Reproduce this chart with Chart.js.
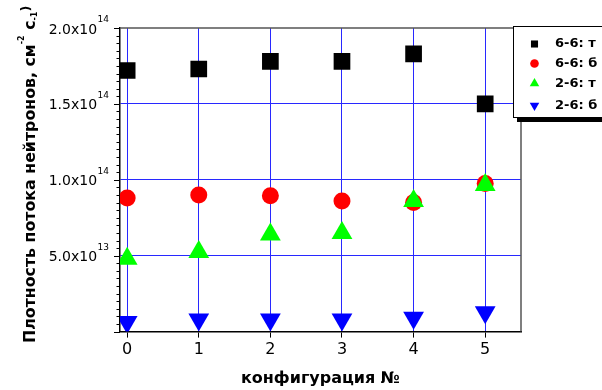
<!DOCTYPE html>
<html>
<head>
<meta charset="utf-8">
<script src="https://cdn.jsdelivr.net/npm/chart.js@4"></script>
<style>
html, body { margin: 0; padding: 0; background: #fff; }
#wrap { width: 602px; height: 390px; }
</style>
</head>
<body>
<div id="wrap"><canvas id="flux-chart" width="602" height="390"></canvas></div>
<script>
// конфигурации и плотности потока (см^-2 с^-1)
const configs = [0, 1, 2, 3, 4, 5];
const flux66t = [1.72e14, 1.73e14, 1.78e14, 1.78e14, 1.83e14, 1.50e14];
const flux66b = [8.8e13, 9.0e13, 8.95e13, 8.6e13, 8.5e13, 9.75e13];
const flux26t = [4.8e13, 5.25e13, 6.4e13, 6.5e13, 8.6e13, 9.65e13];
const flux26b = [6.3e12, 7.9e12, 7.9e12, 7.9e12, 9.2e12, 1.27e13];

const seriesNames = ['6-6: т', '6-6: б', '2-6: т', '2-6: б'];
const yTicks = [0, 5e13, 1e14, 1.5e14, 2e14];
const yTickMant = ['', '5.0x10', '1.0x10', '1.5x10', '2.0x10'];
const yTickExp = ['', '13', '14', '14', '14'];
const yMinorStep = 5e12;

const FONT = 'DejaVu Sans';
const blue = 'rgb(40,40,255)';

function pts(arr) {
    return configs.map((c, i) => ({ x: c, y: arr[i] }));
}

const styles = [
    { pointStyle: 'rect', radius: 11.8, rotation: 0, color: '#000000', legR: 5 },
    { pointStyle: 'circle', radius: 8.5, rotation: 0, color: '#ff0000', legR: 4.3 },
    { pointStyle: 'triangle', radius: 12, rotation: 0, color: '#00ff00', legR: 5.5 },
    { pointStyle: 'triangle', radius: 12, rotation: 180, color: '#0000ff', legR: 5.5 },
];

const decor = {
    id: 'decor',
    afterDraw(chart) {
        const ctx = chart.ctx;
        const a = chart.chartArea;
        const ys = chart.scales.y;
        ctx.save();

        // рамка сверху и справа
        ctx.strokeStyle = '#555';
        ctx.lineWidth = 1.5;
        ctx.beginPath();
        ctx.moveTo(a.left, a.top);
        ctx.lineTo(a.right, a.top);
        ctx.lineTo(a.right, a.bottom);
        ctx.stroke();

        // деления на оси Y
        ctx.strokeStyle = '#000';
        ctx.lineWidth = 1;
        for (let k = 0; k * yMinorStep <= 2e14; k++) {
            const y = Math.round(ys.getPixelForValue(k * yMinorStep)) + 0.5;
            const major = k % 10 === 0;
            ctx.beginPath();
            ctx.moveTo(a.left - (major ? 6 : 3.5), y);
            ctx.lineTo(a.left, y);
            ctx.stroke();
        }

        // подписи оси Y со степенями
        ctx.fillStyle = '#000';
        ctx.textBaseline = 'alphabetic';
        yTicks.forEach((v, i) => {
            if (!yTickMant[i]) return;
            const y = ys.getPixelForValue(v);
            ctx.font = '9px ' + FONT;
            const supW = ctx.measureText(yTickExp[i]).width;
            const supX = a.left - 11 - supW;
            ctx.fillText(yTickExp[i], supX, y - 6);
            ctx.font = '14px ' + FONT;
            const mW = ctx.measureText(yTickMant[i]).width;
            ctx.fillText(yTickMant[i], supX - 0.5 - mW, y + 5.5);
        });

        // заголовок оси Y
        ctx.save();
        ctx.translate(35, 343);
        ctx.rotate(-Math.PI / 2);
        let x = 0;
        const piece = (txt, size, dy) => {
            ctx.font = 'bold ' + size + 'px ' + FONT;
            ctx.fillText(txt, x, dy);
            x += ctx.measureText(txt).width;
        };
        piece('Плотность потока нейтронов, см', 15.8, 0);
        piece('-2', 8, -11);
        piece(' с', 15.8, 0);
        piece('-1', 8, 2);
        piece(')', 13, -5);
        ctx.restore();

        // легенда
        const lx = 513, ly = 26, lh = 91;
        ctx.fillStyle = '#000';
        ctx.fillRect(lx + 4, ly + 5, 200, lh);
        ctx.fillStyle = '#fff';
        ctx.fillRect(lx, ly, 200, lh);
        ctx.strokeStyle = '#000';
        ctx.lineWidth = 1;
        ctx.strokeRect(lx + 0.5, ly + 0.5, 200, lh);
        const rowsY = [44, 63.5, 83.5, 105.5];
        seriesNames.forEach((name, i) => {
            const s = styles[i];
            ctx.fillStyle = s.color;
            ctx.strokeStyle = s.color;
            Chart.helpers.drawPoint(ctx, {
                pointStyle: s.pointStyle, radius: s.legR, rotation: s.rotation, borderWidth: 0
            }, 534.5, rowsY[i]);
            ctx.fillStyle = '#000';
            ctx.font = 'bold 13px ' + FONT;
            ctx.textBaseline = 'middle';
            ctx.fillText(name, 555, rowsY[i]);
        });
        ctx.restore();
    }
};

new Chart(document.getElementById('flux-chart'), {
    type: 'scatter',
    data: {
        datasets: [flux66t, flux66b, flux26t, flux26b].map((arr, i) => ({
            label: seriesNames[i],
            data: pts(arr),
            showLine: false,
            pointStyle: styles[i].pointStyle,
            pointRadius: styles[i].radius,
            pointRotation: styles[i].rotation,
            backgroundColor: styles[i].color,
            borderColor: styles[i].color,
            borderWidth: 0,
            order: [3, 2, 0, 1][i],
        }))
    },
    options: {
        responsive: false,
        animation: false,
        devicePixelRatio: 1,
        events: [],
        layout: {
            padding: { left: 120, top: 28, right: 81, bottom: 0 }
        },
        scales: {
            x: {
                type: 'linear',
                min: -0.1,
                max: 5.5,
                afterBuildTicks: (scale) => { scale.ticks = configs.map(v => ({ value: v })); },
                grid: { color: blue, lineWidth: 1, tickColor: '#000', tickLength: 6, drawTicks: true },
                border: { display: true, color: '#000', width: 1.5 },
                ticks: {
                    font: { family: FONT, size: 16 },
                    color: '#000',
                    padding: 3,
                    maxRotation: 0,
                    callback: (v) => String(v),
                },
                title: {
                    display: true,
                    text: 'конфигурация №',
                    font: { family: FONT, size: 16, weight: 'bold' },
                    color: '#000',
                    padding: { top: 6, bottom: 2 },
                }
            },
            y: {
                type: 'linear',
                min: 0,
                max: 2e14,
                afterBuildTicks: (scale) => { scale.ticks = yTicks.map(v => ({ value: v })); },
                grid: {
                    drawTicks: false,
                    lineWidth: 1,
                    color: (c) => (c.tick && (c.tick.value === 0 || c.tick.value === 2e14)) ? 'rgba(0,0,0,0)' : blue,
                },
                border: { display: true, color: '#000', width: 1.5 },
                ticks: { display: false },
            }
        },
        plugins: {
            legend: { display: false },
            tooltip: { enabled: false }
        }
    },
    plugins: [decor]
});
</script>
</body>
</html>
